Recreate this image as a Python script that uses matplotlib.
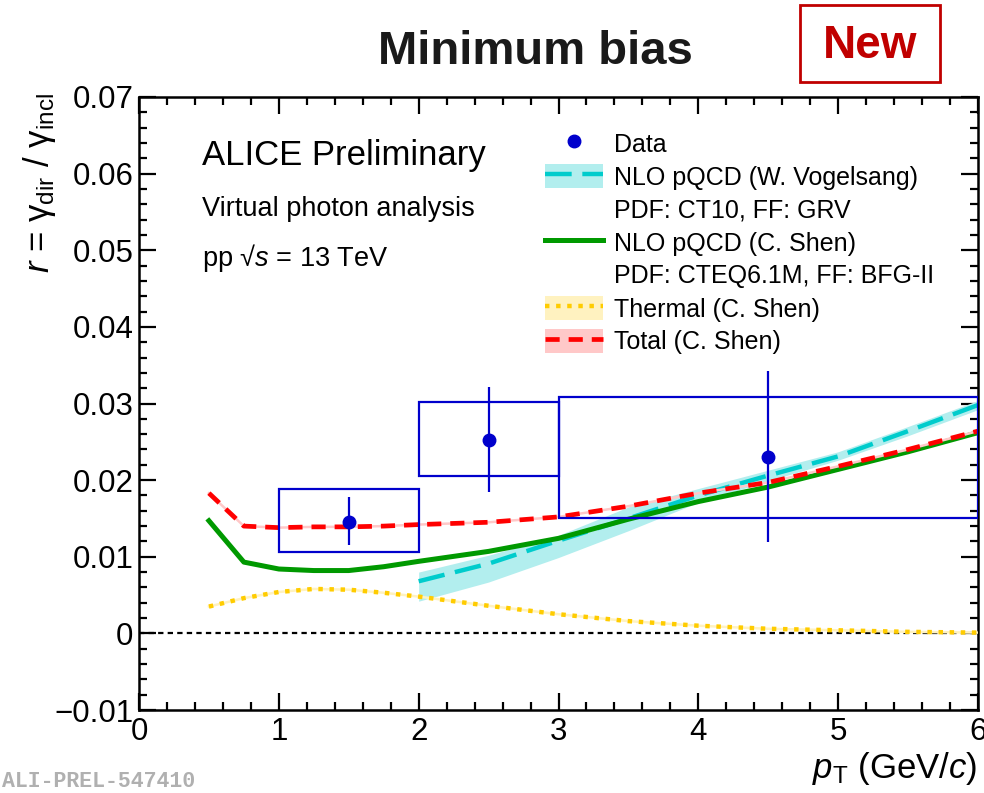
import matplotlib
matplotlib.use("Agg")
import matplotlib.pyplot as plt
from matplotlib.patches import Rectangle, Patch
from matplotlib.lines import Line2D
from matplotlib.ticker import MultipleLocator

plt.rcParams['font.family'] = ['Liberation Sans', 'DejaVu Sans']
plt.rcParams['mathtext.fontset'] = 'custom'
plt.rcParams['mathtext.rm'] = 'Liberation Sans'
plt.rcParams['mathtext.it'] = 'Liberation Sans:italic'
plt.rcParams['mathtext.bf'] = 'Liberation Sans:bold'

# measured points: r = gamma_dir / gamma_incl
pt_data = [1.5, 2.5, 4.5]
r_data = [0.0146, 0.0253, 0.0230]
stat_lo = [0.0115, 0.0185, 0.0119]
stat_hi = [0.0178, 0.0321, 0.0342]
bin_lo = [1.0, 2.0, 3.0]
bin_hi = [2.0, 3.0, 6.0]
sys_lo = [0.0106, 0.0206, 0.0151]
sys_hi = [0.0189, 0.0302, 0.0308]

# NLO pQCD (W. Vogelsang) with scale band
pt_vog = [2.0, 2.5, 3.0, 3.5, 4.0, 4.5, 5.0, 5.5, 6.0]
r_vog = [0.0068, 0.0091, 0.0121, 0.0150, 0.0180, 0.0206, 0.0231, 0.0264, 0.0298]
r_vog_lo = [0.0042, 0.0067, 0.0099, 0.0134, 0.0171, 0.0199, 0.0226, 0.0258, 0.0292]
r_vog_hi = [0.0080, 0.0102, 0.0128, 0.0165, 0.0189, 0.0213, 0.0237, 0.0270, 0.0304]

# C. Shen: NLO pQCD, thermal and total
pt_shen = [0.5, 0.75, 1.0, 1.25, 1.5, 1.75, 2.0, 2.5, 3.0, 3.5, 4.0, 4.5, 5.0, 5.5, 6.0]
r_nlo_shen = [0.0147, 0.0093, 0.0084, 0.0082, 0.0082, 0.0087, 0.0094, 0.0107, 0.0124,
              0.0149, 0.0172, 0.0191, 0.0214, 0.0237, 0.0262]
r_thermal = [0.0035, 0.0046, 0.0054, 0.0058, 0.0057, 0.0053, 0.0048, 0.0036, 0.0025,
             0.0016, 0.0010, 0.0006, 0.0004, 0.0002, 0.0001]
r_total = [0.0183, 0.0140, 0.0138, 0.0139, 0.0139, 0.0140, 0.0142, 0.0145, 0.0152,
           0.0166, 0.0183, 0.0197, 0.0218, 0.0240, 0.0264]

blue = '#0000cc'
cyan = '#00cccc'
cyan_band = '#b2eeee'
green = '#009900'
yellow = '#ffcc00'
yellow_band = '#fff2c0'
red = '#ff0000'
red_band = '#ffc8c8'

fig = plt.figure(figsize=(9.84, 7.93), dpi=100)
ax = fig.add_axes([139 / 984, 1 - 710 / 793, (978 - 139) / 984, (710 - 97) / 793])

ax.axhline(0, color='black', lw=1.6, linestyle=(0, (2.4, 1.9)), zorder=1)

# theory curves
ax.fill_between(pt_vog, r_vog_lo, r_vog_hi, color=cyan_band, lw=0, zorder=2)
ax.plot(pt_vog, r_vog, color=cyan, lw=3.2, linestyle=(0, (6, 2.4)), zorder=3)
ax.plot(pt_shen, r_nlo_shen, color=green, lw=3.6, zorder=4)
ax.plot(pt_shen, r_thermal, color=yellow_band, lw=1.8, zorder=3)
ax.plot(pt_shen, r_thermal, color=yellow, lw=3.2, linestyle=(0, (1, 1.5)), zorder=4)
ax.plot(pt_shen, r_total, color=red_band, lw=1.8, zorder=4)
ax.plot(pt_shen, r_total, color=red, lw=3.4, linestyle=(0, (3, 1.9)), zorder=5)

# data with systematic boxes
for x0, x1, y0, y1 in zip(bin_lo, bin_hi, sys_lo, sys_hi):
    ax.add_patch(Rectangle((x0, y0), x1 - x0, y1 - y0, fill=False,
                           edgecolor=blue, lw=1.6, zorder=6))
yerr = [[r - lo for r, lo in zip(r_data, stat_lo)],
        [hi - r for r, hi in zip(r_data, stat_hi)]]
ax.errorbar(pt_data, r_data, yerr=yerr, fmt='o', color=blue, ms=9, elinewidth=1.6,
            capsize=0, zorder=7)

ax.set_xlim(0, 6)
ax.set_ylim(-0.01, 0.07)
ax.xaxis.set_major_locator(MultipleLocator(1))
ax.xaxis.set_minor_locator(MultipleLocator(0.2))
ax.yaxis.set_major_locator(MultipleLocator(0.01))
ax.yaxis.set_minor_locator(MultipleLocator(0.002))
ax.yaxis.set_major_formatter(plt.FuncFormatter(
    lambda v, p: '0' if abs(v) < 1e-9 else ('\u2212%.2f' % -v if v < 0 else '%.2f' % v)))
ax.tick_params(which='both', direction='in', top=True, right=True, width=1.6,
               labelsize=22.5)
ax.tick_params(which='major', length=12)
ax.tick_params(which='minor', length=6)
ax.tick_params(axis='y', pad=4)
ax.tick_params(axis='x', pad=5)
for s in ax.spines.values():
    s.set_linewidth(1.8)

fig.text(977 / 984, 1 - 778 / 793, r'$p_{\rm T}$ (GeV/$c$)', ha='right', va='baseline',
         fontsize=25)
fig.text(40 / 984, 1 - 93 / 793,
         r'$r$ = γ$_{\rm dir}$ / γ$_{\rm incl}$', rotation=90,
         ha='center', va='top', fontsize=25)

ax.text(0.075, 0.905, 'ALICE Preliminary', transform=ax.transAxes, fontsize=25,
        va='center')
ax.text(0.075, 0.818, 'Virtual photon analysis', transform=ax.transAxes, fontsize=19.5,
        va='center')
ax.text(0.075, 0.738, 'pp √$s$ = 13 TeV', transform=ax.transAxes, fontsize=19.5,
        va='center')

handles = [
    Line2D([], [], marker='o', color=blue, linestyle='none', ms=9),
    (Patch(facecolor=cyan_band, lw=0),
     Line2D([], [], color=cyan, lw=3.2, linestyle=(0, (6, 2.4)))),
    Line2D([], [], linestyle='none'),
    Line2D([], [], color=green, lw=3.6),
    Line2D([], [], linestyle='none'),
    (Patch(facecolor=yellow_band, lw=0),
     Line2D([], [], color=yellow, lw=3.2, linestyle=(0, (1, 1.5)))),
    (Patch(facecolor=red_band, lw=0),
     Line2D([], [], color=red, lw=3.4, linestyle=(0, (3, 1.9)))),
]
labels = ['Data', 'NLO pQCD (W. Vogelsang)', 'PDF: CT10, FF: GRV',
          'NLO pQCD (C. Shen)', 'PDF: CTEQ6.1M, FF: BFG-II',
          'Thermal (C. Shen)', 'Total (C. Shen)']
fig.legend(handles, labels, loc='upper left', bbox_to_anchor=(545 / 984, 1 - 131 / 793),
           frameon=False, fontsize=18, handlelength=2.3, handleheight=1.1,
           handletextpad=0.45, labelspacing=0.3, borderpad=0, borderaxespad=0)

fig.text(535 / 984, 1 - 52 / 793, 'Minimum bias', ha='center', va='center',
         fontsize=34, fontweight='bold', color='#1a1a1a')

fig.patches.append(Rectangle((800 / 984, 1 - 82 / 793), 140 / 984, 77 / 793,
                             transform=fig.transFigure, fill=False,
                             edgecolor='#c00000', lw=2))
fig.text(870 / 984, 1 - 46 / 793, 'New', ha='center', va='center', fontsize=33,
         fontweight='bold', color='#c00000')

fig.text(2 / 984, 1 - 787 / 793, 'ALI-PREL-547410', ha='left', va='baseline',
         fontsize=15.5, fontweight='bold', color='#b0b0b0', family='Liberation Mono')

fig.savefig('out.png', dpi=100)
